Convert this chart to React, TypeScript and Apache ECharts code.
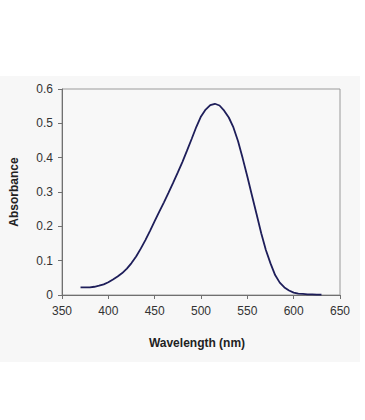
import React, { useEffect, useRef } from "react";
import * as echarts from "echarts";

const wavelengths = [
  370, 375, 380, 385, 390, 395, 400, 405, 410, 415, 420, 425, 430, 435, 440, 445, 450, 455, 460, 465,
  470, 475, 480, 485, 490, 495, 500, 505, 510, 515, 520, 525, 530, 535, 540, 545, 550, 555, 560, 565,
  570, 575, 580, 585, 590, 595, 600, 605, 610, 615, 620, 625, 630,
];
const absorbance = [
  0.022, 0.022, 0.022, 0.024, 0.027, 0.031, 0.037, 0.045, 0.054, 0.064, 0.077, 0.093, 0.112, 0.135, 0.16,
  0.187, 0.215, 0.243, 0.27, 0.298, 0.327, 0.357, 0.388, 0.421, 0.455, 0.49, 0.52, 0.54, 0.553, 0.557,
  0.552, 0.537, 0.517, 0.488, 0.448, 0.398, 0.345, 0.29, 0.235, 0.18, 0.131, 0.092, 0.058, 0.036, 0.022,
  0.013, 0.007, 0.004, 0.003, 0.002, 0.002, 0.001, 0.001,
];

const xTicks = { min: 350, max: 650, interval: 50 };
const yTicks = { min: 0, max: 0.6, interval: 0.1 };

export default function App() {
  const ref = useRef<HTMLDivElement>(null);
  useEffect(() => {
    if (!ref.current) return;
    const chart = echarts.init(ref.current, null, { renderer: "svg" });
    const data = wavelengths.map((w, i) => [w, absorbance[i]]);
    chart.setOption({
      animation: false,
      backgroundColor: "#ffffff",
      graphic: [
        {
          type: "rect",
          shape: { x: 0, y: 76, width: 360, height: 286 },
          style: { fill: "#f7f7f7" },
          z: -10,
          silent: true,
        },
      ],
      grid: {
        left: 62,
        right: 25,
        top: 89,
        bottom: 125,
        show: true,
        borderColor: "#9a9a9a",
        borderWidth: 1,
        backgroundColor: "#f8f8f8",
      },
      xAxis: {
        type: "value",
        min: xTicks.min,
        max: xTicks.max,
        interval: xTicks.interval,
        name: "Wavelength (nm)",
        nameLocation: "middle",
        nameGap: 42,
        nameTextStyle: {
          fontFamily: "Liberation Sans, Arial, sans-serif",
          fontWeight: "bold",
          fontSize: 12,
          color: "#222",
          padding: [0, 8, 0, 0],
        },
        axisLine: { show: true, lineStyle: { color: "#707070", width: 1 } },
        axisTick: { show: true, inside: false, length: 4, lineStyle: { color: "#707070" } },
        axisLabel: {
          margin: 10,
          fontFamily: "Liberation Sans, Arial, sans-serif",
          fontSize: 12,
          color: "#333",
        },
        splitLine: { show: false },
      },
      yAxis: {
        type: "value",
        min: yTicks.min,
        max: yTicks.max,
        interval: yTicks.interval,
        name: "Absorbance",
        nameLocation: "middle",
        nameGap: 42,
        nameTextStyle: {
          fontFamily: "Liberation Sans, Arial, sans-serif",
          fontWeight: "bold",
          fontSize: 12,
          color: "#222",
        },
        axisLine: { show: true, lineStyle: { color: "#707070", width: 1 } },
        axisTick: { show: true, inside: false, length: 4, lineStyle: { color: "#707070" } },
        axisLabel: {
          margin: 9,
          fontFamily: "Liberation Sans, Arial, sans-serif",
          fontSize: 12,
          color: "#333",
          formatter: (v: number) => (v === 0 ? "0" : String(Math.round(v * 10) / 10)),
        },
        splitLine: { show: false },
      },
      series: [
        {
          type: "line",
          data,
          showSymbol: false,
          smooth: false,
          lineStyle: { color: "#1e1e5a", width: 1.8 },
        },
      ],
    });
    return () => chart.dispose();
  }, []);
  return (
    <div
      ref={ref}
      style={{ position: "fixed", left: 0, top: 0, width: 365, height: 420 }}
    />
  );
}
